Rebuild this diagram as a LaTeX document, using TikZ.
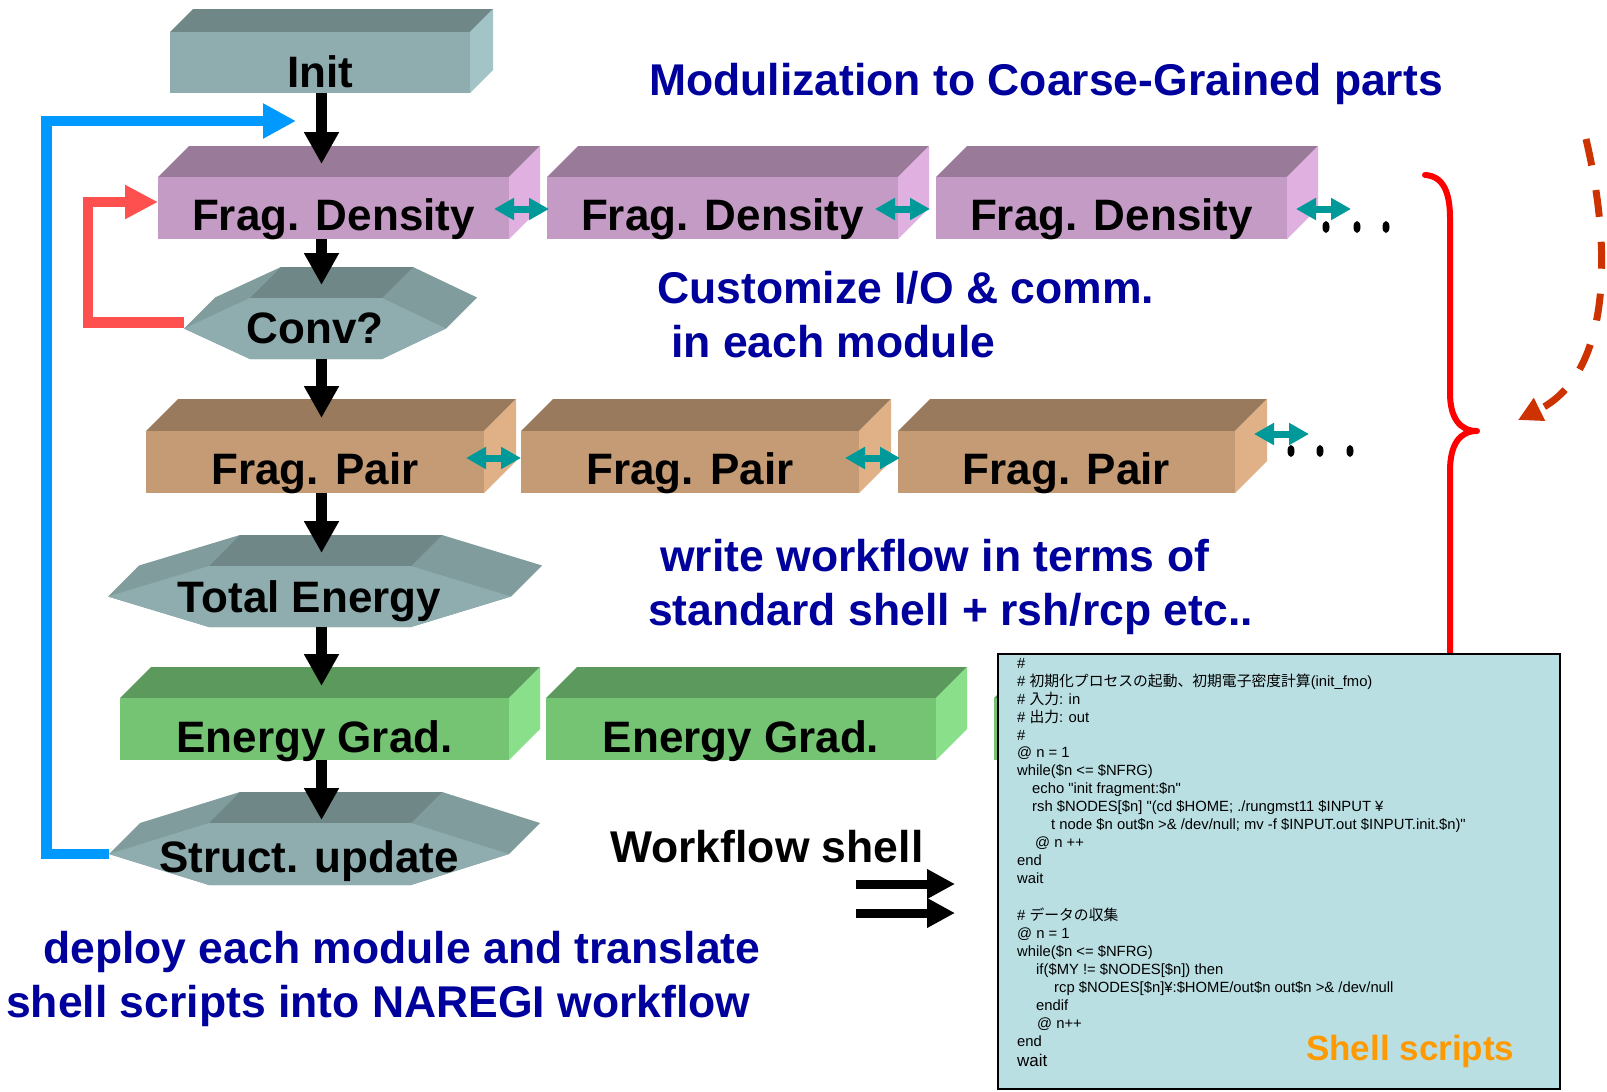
\documentclass[tikz,border=0pt]{standalone}
\usepackage{fontspec}
\setmainfont{Liberation Sans}
\newfontfamily\codefont{Liberation Sans}[Ligatures=TeXOff]
\newfontfamily\jpfont{Noto Sans CJK JP}
\usetikzlibrary{arrows.meta,calc}

% face colours of the extruded blocks (F = front, T = top, S = side)
\definecolor{initF}{HTML}{8FADAE}\definecolor{initT}{HTML}{708788}\definecolor{initS}{HTML}{A3C4C6}
\definecolor{fdF}{HTML}{C49BC4}\definecolor{fdT}{HTML}{997A98}\definecolor{fdS}{HTML}{E0B1E0}
\definecolor{fpF}{HTML}{C49B75}\definecolor{fpT}{HTML}{997A5C}\definecolor{fpS}{HTML}{E0B186}
\definecolor{egF}{HTML}{74C474}\definecolor{egT}{HTML}{5C995C}\definecolor{egS}{HTML}{8AE08A}
\definecolor{hexF}{HTML}{8FADAE}\definecolor{hexT}{HTML}{708788}\definecolor{hexS}{HTML}{809C9D}
\definecolor{navytext}{HTML}{00009C}
\definecolor{loopblue}{HTML}{0099FF}
\definecolor{loopred}{HTML}{FF5050}
\definecolor{braceRed}{HTML}{FF0000}
\definecolor{dashRed}{HTML}{CC3300}
\definecolor{linkteal}{HTML}{009999}
\definecolor{scriptbg}{HTML}{B9DFE3}
\definecolor{scriptlabel}{HTML}{FF9900}

\tikzset{
  boxtext/.style={font=\fontsize{44}{48}\selectfont\bfseries, text=black, inner sep=0pt},
  bluetext/.style={font=\fontsize{44.5}{50}\selectfont\bfseries, text=navytext, inner sep=0pt, anchor=base west},
  code/.style={font=\codefont\fontsize{14.8}{17}\selectfont, text=black, inner sep=0pt, anchor=base west},
  flow/.style={draw=black, line width=11pt, -{Triangle[length=32pt,width=33pt]}},
  link/.style={draw=linkteal, line width=7pt, {Triangle[length=20pt,width=21pt]}-{Triangle[length=20pt,width=21pt]}},
  blueloop/.style={draw=loopblue, line width=10.5pt, -{Triangle[length=33pt,width=33pt]}},
  redloop/.style={draw=loopred, line width=10.5pt, -{Triangle[length=33pt,width=32pt]}},
  fatarrow/.style={draw=black, line width=9pt, -{Triangle[length=28pt,width=28pt]}},
}

% extruded rectangular block: name, x1, y1, x2, y2 (front face), depth, colour prefix, label, label baseline
\newcommand\slab[9]{%
  \fill[#7T] (#2,#3) -- (#2+#6,#3-#6) -- (#4+#6,#3-#6) -- (#4,#3) -- cycle;
  \fill[#7S] (#4,#3) -- (#4+#6,#3-#6) -- (#4+#6,#5-#6) -- (#4,#5) -- cycle;
  \node[fill=#7F, inner sep=0pt, outer sep=0pt, minimum width={(#4-#2)*1pt},
        minimum height={(#5-#3)*1pt}, anchor=north west] (#1) at (#2,#3) {};
  \node[boxtext, anchor=base] (#1-label) at (#2/2+#4/2,#9) {#8};
}

% extruded hexagon: name, left x, top-left x, top-right x, right x, centre y, half height, label baseline, label
\newcommand\hexslab[9]{%
  \fill[hexS] (#2,#6) -- (#2+31,#6-31) -- (#3+31,#6-#7-31) -- (#4+31,#6-#7-31)
     -- (#5+31,#6-31) -- (#5,#6) -- (#4,#6+#7) -- (#3,#6+#7) -- cycle;
  \fill[hexT] (#3,#6-#7) -- (#3+31,#6-#7-31) -- (#4+31,#6-#7-31) -- (#4,#6-#7) -- cycle;
  \fill[hexF] (#2,#6) -- (#3,#6-#7) -- (#4,#6-#7) -- (#5,#6) -- (#4,#6+#7) -- (#3,#6+#7) -- cycle;
  \node[inner sep=0pt, outer sep=0pt, minimum width={(#5-#2)*1pt},
        minimum height={2*#7*1pt}, anchor=west] (#1) at (#2,#6) {};
  \node[boxtext, anchor=base] (#1-label) at (#2/2+#5/2,#8) {#9};
}

\begin{document}
\begin{tikzpicture}[x=1pt,y=-1pt]
\fill[white] (0,0) rectangle (1607,1092);
\useasboundingbox (0,0) rectangle (1607,1092);

% grouping brace and the dashed return arrow on the right
\draw[braceRed, line width=6pt, line cap=round, line join=round]
  (1425,175) .. controls (1443,176) and (1450,192) .. (1450,218) -- (1450,393)
  .. controls (1450,418) and (1460,431) .. (1477,431)
  .. controls (1460,431) and (1450,444) .. (1450,471) -- (1450,670);
\draw[dashRed, line width=7pt, dash pattern=on 27pt off 25pt, -{Triangle[length=24pt,width=24pt]}]
  (1586,139) .. controls (1610,240) and (1615,372) .. (1518,420);

% module blocks
\slab{init}{170}{32}{470}{93}{23}{init}{Init}{87}
\slab{fd1}{158}{177}{509}{239}{31}{fd}{Frag. Density}{230}
\slab{fd2}{547}{177}{898}{239}{31}{fd}{Frag. Density}{230}
\slab{fd3}{936}{177}{1287}{239}{31}{fd}{Frag. Density}{230}
\slab{fp1}{146}{431}{484}{493}{32}{fp}{Frag. Pair}{484}
\slab{fp2}{521}{431}{859}{493}{32}{fp}{Frag. Pair}{484}
\slab{fp3}{898}{431}{1235}{493}{32}{fp}{Frag. Pair}{484}
\slab{eg1}{120}{698}{509}{760}{31}{eg}{Energy Grad.}{752}
\slab{eg2}{546}{698}{936}{760}{31}{eg}{Energy Grad.}{752}
\slab{eg3}{994}{698}{1384}{760}{31}{eg}{}{752}

% decision / reduction steps
\hexslab{conv}{184}{250}{382}{446}{328.5}{30.5}{343}{Conv?}
\hexslab{te}{108}{209}{411}{511}{596.5}{30.5}{612}{Total Energy}
\hexslab{su}{109}{209}{411}{509}{854}{31}{872}{Struct. update}

% main flow
\coordinate (spine) at (321.5,0);
\draw[flow, shorten >=13pt] (spine |- init.south) -- (spine |- fd1.north);
\draw[flow, shorten >=13pt] (spine |- fd1.south) -- (spine |- conv.north);
\draw[flow, shorten >=13pt] (spine |- conv.south) -- (spine |- fp1.north);
\draw[flow, shorten >=13pt] (spine |- fp1.south) -- (spine |- te.north);
\draw[flow, shorten >=12pt] (spine |- te.south) -- (spine |- eg1.north);
\draw[flow, shorten >=3pt] (spine |- eg1.south) -- (spine |- su.north);

% loops
\coordinate (loopin) at (296,121);
\draw[blueloop] (su.west) -- ++(-62.5,0) |- (loopin);
\draw[redloop] ($(conv.west)+(0,-6)$) -- ++(-96,0) |- ($(fd1.west)+(0,-6)$);

% communication between neighbouring modules
\draw[link] ($(fd2.west)+(-53,1)$) -- ($(fd2.west)+(2,1)$);
\draw[link] ($(fd3.west)+(-61,1)$) -- ($(fd3.west)+(-6,1)$);
\draw[link] ($(fd3.east)+(9,1)$) -- ($(fd3.east)+(64,1)$);
\draw[link] ($(fp2.west)+(-55,-4)$) -- ($(fp2.west)+(0,-4)$);
\draw[link] ($(fp3.west)+(-53,-4)$) -- ($(fp3.west)+(2,-4)$);
\draw[link] ($(fp3.east)+(19,-28)$) -- ($(fp3.east)+(74,-28)$);

% continuation dots
\foreach \dx in {1326,1357,1386} \fill (\dx,227) ellipse [x radius=3.5, y radius=6];
\foreach \dx in {1291,1320,1350} \fill (\dx,451) ellipse [x radius=3.5, y radius=6];

% captions
\node[bluetext] (title) at (649,95) {Modulization to Coarse-Grained parts};
\node[bluetext] (cust1) at (657,303) {Customize I/O \& comm.};
\node[bluetext] (cust2) at (671,357) {in each module};
\node[bluetext] (wf1) at (660,571) {write workflow in terms of};
\node[bluetext] (wf2) at (648,625) {standard shell + rsh/rcp etc..};
\node[bluetext] (dep1) at (43,963) {deploy each module and translate};
\node[bluetext] (dep2) at (6,1017) {shell scripts into NAREGI workflow};
\node[bluetext, text=black] (wfshell) at (610,862) {Workflow shell};

% shell script panel
\node[draw=black, line width=2pt, fill=scriptbg, inner sep=0pt, minimum width=562pt,
      minimum height=435pt, anchor=north west] (shell) at (997,653) {};
\coordinate (wsa) at (856,884); \coordinate (wsa-end) at (955,884);
\coordinate (wsb) at (856,913); \coordinate (wsb-end) at (955,913);
\draw[fatarrow] (wsa) -- (wsa-end);
\draw[fatarrow] (wsb) -- (wsb-end);

\node[code] (sc1) at (1017,668) {\#};
\node[code] (sc2) at (1017,686) {\# {\jpfont 初期化プロセスの起動、初期電子密度計算}(init\_fmo)};
\node[code] (sc3) at (1017,704) {\# {\jpfont 入力}: in};
\node[code] (sc4) at (1017,722) {\# {\jpfont 出力}: out};
\node[code] (sc5) at (1017,740) {\#};
\node[code] (sc6) at (1017,757) {@ n = 1};
\node[code] (sc7) at (1017,775) {while(\$n <= \$NFRG)};
\node[code] (sc8) at (1032,793) {echo "init fragment:\$n"};
\node[code] (sc9) at (1032,811) {rsh \$NODES[\$n] "(cd \$HOME; ./rungmst11 \$INPUT ¥};
\node[code] (sc10) at (1051,829) {t node \$n out\$n >\& /dev/null; mv -f \$INPUT.out \$INPUT.init.\$n)"};
\node[code] (sc11) at (1035,847) {@ n ++};
\node[code] (sc12) at (1017,865) {end};
\node[code] (sc13) at (1017,883) {wait};
\node[code] (sc14) at (1017,920) {\# {\jpfont データの収集}};
\node[code] (sc15) at (1017,938) {@ n = 1};
\node[code] (sc16) at (1017,956) {while(\$n <= \$NFRG)};
\node[code] (sc17) at (1036,974) {if(\$MY != \$NODES[\$n]) then};
\node[code] (sc18) at (1054,992) {rcp \$NODES[\$n]¥:\$HOME/out\$n out\$n >\& /dev/null};
\node[code] (sc19) at (1036,1010) {endif};
\node[code] (sc20) at (1037,1028) {@ n++};
\node[code] (sc21) at (1017,1046) {end};
\node[code, font=\codefont\fontsize{17}{20}\selectfont] (sc22) at (1017,1066) {wait};
\node[font=\fontsize{35}{40}\selectfont\bfseries, text=scriptlabel, inner sep=0pt, anchor=base west]
  (shelllabel) at (1306,1060) {Shell scripts};
\end{tikzpicture}
\end{document}
